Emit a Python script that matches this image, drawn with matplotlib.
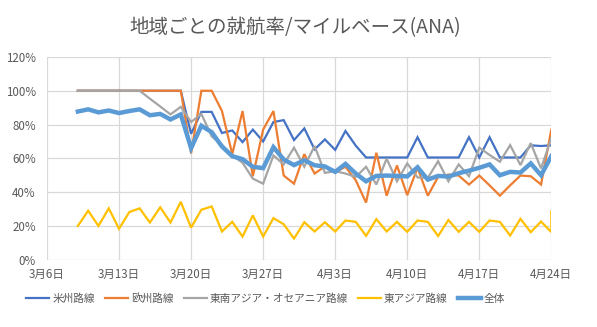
import numpy as np
import pandas as pd
import matplotlib
matplotlib.use('Agg')
import matplotlib.pyplot as plt

plt.rcParams['font.family'] = ['Noto Sans CJK JP', 'DejaVu Sans']

# 3/9 .. 4/24 (the last date appears twice in the sheet)
dates = list(pd.date_range('2020-03-09', '2020-04-24', freq='D')) + [pd.Timestamp('2020-04-24')]

americas = [100, 100, 100, 100, 100, 100, 100, 100, 100, 100, 100,
            74.5, 87.5, 87.5, 75, 76.5, 69.6, 77, 70, 81.5, 82.6, 70.8, 77.7, 65.3, 71.2,
            65, 76.2, 67.5, 60.5, 60.5, 60.5, 60.5, 60.5, 72.5, 60.5, 60.5, 60.5, 60.5,
            72.5, 60.5, 72.5, 60.5, 60.5, 60.5, 67.7, 67.3, 67.7, 67.7]
europe = [100, 100, 100, 100, 100, 100, 100, 100, 100, 100, 100,
          63, 100, 100, 88, 62.5, 88, 49.4, 77, 88, 49.8, 45, 62.5, 51, 55.2,
          51.8, 55, 47, 33.8, 63.3, 37.9, 55.8, 38.2, 54.4, 37.9, 49, 50.4, 49.8,
          44.5, 49.8, 44, 37.9, 44, 49.8, 49.4, 44.5, 77, 77]
se_asia = [100, 100, 100, 100, 100, 100, 100, 95.3, 90.7, 86, 90.5,
           81.5, 86.3, 73, 68, 61.7, 57.4, 48, 45, 61.7, 56.4, 66.3, 55, 67.3, 51.4,
           52.4, 51, 49, 55, 44.5, 59.8, 46.4, 57, 48.7, 48.4, 58.3, 46.4, 56.4,
           49.4, 66.3, 62, 58, 67.8, 56, 69, 54, 72, 72]
e_asia = [20, 29, 20, 30.4, 18.3, 28.2, 30.4, 22, 31, 22, 34.3,
          19, 29.6, 31.5, 16.7, 22.4, 13.7, 26.2, 13.7, 24.6, 21, 12.5, 22.2, 16.7, 22.2,
          16.7, 23.2, 22.4, 14.1, 24, 16.7, 22.4, 16.5, 23.2, 22.4, 14, 23.5, 16.5,
          22.4, 16.5, 23.2, 22.4, 14.3, 24.2, 16.3, 22.6, 16.3, 28.6]
overall = [87.7, 89, 87.2, 88.3, 86.8, 88, 89, 85.5, 86.3, 83, 86,
           66, 79.3, 75.5, 67, 61.3, 59.5, 55, 54.2, 66.6, 59.3, 56, 58.9, 55.9, 55.2,
           52, 56.7, 51, 46.4, 49.6, 49.8, 49.6, 49.3, 54.7, 47.4, 49.6, 49.2, 51.2,
           52.7, 54.4, 56.4, 50, 52, 51.6, 57, 50, 61.3, 61.3]

names = ['米州路線', '欧州路線', '東南アジア・オセアニア路線', '東アジア路線', '全体']
colors = ['#4472C4', '#ED7D31', '#A5A5A5', '#FFC000', '#5B9BD5']
widths = [1.6, 1.6, 1.6, 1.6, 3.2]

tick_dates = pd.date_range('2020-03-06', '2020-04-24', freq='7D')

fig = plt.figure(figsize=(5.97, 3.27), dpi=100)
ax = fig.add_axes([0.0787, 0.2058, 0.8448, 0.62])

for vals, nm, c, w in zip([americas, europe, se_asia, e_asia, overall], names, colors, widths):
    ax.plot(dates, vals, color=c, lw=w, label=nm, solid_joinstyle='miter')

ax.set_xlim(tick_dates[0], tick_dates[-1])
ax.set_ylim(0, 120)
ax.set_yticks(np.arange(0, 121, 20))
ax.set_yticklabels([f'{v}%' for v in range(0, 121, 20)])
ax.set_xticks(tick_dates)
ax.set_xticklabels([f'{d.month}月{d.day}日' for d in tick_dates])
ax.grid(True, color='#D9D9D9', lw=0.9)
ax.set_axisbelow(True)
for s in ax.spines.values():
    s.set_visible(False)
ax.tick_params(axis='both', length=0, colors='#595959', labelsize=8.3)
ax.tick_params(axis='x', pad=6)
ax.tick_params(axis='y', pad=8)

fig.text(0.495, 0.915, '地域ごとの就航率/マイルベース(ANA)', ha='center', va='center',
         fontsize=14, color='#595959')

leg = fig.legend(loc='center', bbox_to_anchor=(0.445, 0.088), ncol=5, frameon=False,
                 fontsize=7.7, handlelength=2.15, handletextpad=0.28, columnspacing=0.95)
for t in leg.get_texts():
    t.set_color('#595959')

fig.savefig('out.png', dpi=100)
